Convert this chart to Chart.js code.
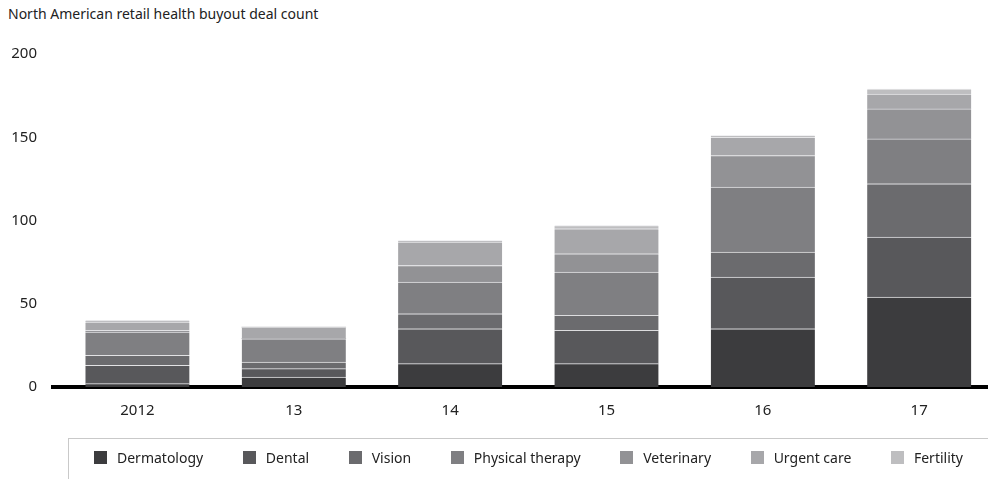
<!DOCTYPE html>
<html>
<head>
<meta charset="utf-8">
<script src="https://cdn.jsdelivr.net/npm/chart.js"></script>
<style>
  body { margin: 0; background: #fff; font-family: 'Noto Sans', sans-serif; color: #222; }
  #wrap { position: relative; width: 988px; height: 479px; overflow: hidden; }
  #title { position: absolute; left: 8px; top: 4px; font-size: 14px; }
  #chart-box { position: absolute; left: 0; top: 0; width: 988px; height: 445px; }
  #legend {
    position: absolute; left: 68px; top: 438px; right: 0; bottom: 0;
    border-top: 1px solid #c9c9c9; border-left: 1px solid #c9c9c9;
    display: flex; justify-content: space-between; align-items: center;
    padding: 0 25px 4px 25px; box-sizing: border-box;
  }
  .item { display: flex; align-items: center; font-size: 14px; }
  .item i { display: inline-block; width: 13px; height: 13px; margin-right: 10px; }
</style>
</head>
<body>
<div id="wrap">
  <div id="title">North American retail health buyout deal count</div>
  <div id="chart-box"><canvas id="dealChart" width="988" height="445"></canvas></div>
  <div id="legend"></div>
</div>
<script>
// Deal counts per year
const years = ['2012', '13', '14', '15', '16', '17'];
const dermatology = [2, 6, 14, 14, 35, 54];
const dental = [11, 5, 21, 20, 31, 36];
const vision = [6, 4, 9, 9, 15, 32];
const physicalTherapy = [14, 14, 19, 26, 39, 27];
const veterinary = [1, 0, 10, 11, 19, 18];
const urgentCare = [5, 7, 14, 15, 11, 9];
const fertility = [1, 0, 1, 2, 1, 3];
const yTicks = [0, 50, 100, 150, 200];

const series = [
  { label: 'Dermatology', data: dermatology, color: '#3c3c3e' },
  { label: 'Dental', data: dental, color: '#58585b' },
  { label: 'Vision', data: vision, color: '#6b6b6e' },
  { label: 'Physical therapy', data: physicalTherapy, color: '#7f7f82' },
  { label: 'Veterinary', data: veterinary, color: '#929295' },
  { label: 'Urgent care', data: urgentCare, color: '#a7a7aa' },
  { label: 'Fertility', data: fertility, color: '#bebec0' }
];

const font = { family: "'Noto Sans', sans-serif", size: 15 };

new Chart(document.getElementById('dealChart'), {
  type: 'bar',
  data: {
    datasets: series.map(s => ({
      label: s.label,
      data: s.data.map((v, i) => ({ x: i, y: v })),
      backgroundColor: s.color,
      borderColor: 'rgba(225,225,228,0.8)',
      borderWidth: { top: 1, left: 0, right: 0, bottom: 0 },
      borderSkipped: false,
      barThickness: 104
    }))
  },
  options: {
    responsive: false,
    animation: false,
    layout: { padding: { top: 54, right: 0, bottom: 10, left: 0 } },
    plugins: { legend: { display: false }, tooltip: { enabled: false } },
    scales: {
      x: {
        type: 'linear',
        stacked: true,
        offset: false,
        min: -0.54,
        max: 5.44,
        afterBuildTicks: s => { s.ticks = years.map((_, i) => ({ value: i })); },
        ticks: { callback: v => years[v], color: '#222', font, padding: 15, maxRotation: 0 },
        grid: { display: false, drawTicks: false },
        border: { display: true, color: '#000', width: 4 }
      },
      y: {
        stacked: true,
        min: 0,
        max: 200,
        afterBuildTicks: s => { s.ticks = yTicks.map(v => ({ value: v })); },
        afterFit: s => { s.width = 53; },
        ticks: { color: '#222', font, padding: 16 },
        grid: { display: false, drawTicks: false },
        border: { display: false }
      }
    }
  }
});

// Legend below the chart
const legend = document.getElementById('legend');
series.forEach(s => {
  const el = document.createElement('div');
  el.className = 'item';
  el.innerHTML = '<i style="background:' + s.color + '"></i>' + s.label;
  legend.appendChild(el);
});
</script>
</body>
</html>
